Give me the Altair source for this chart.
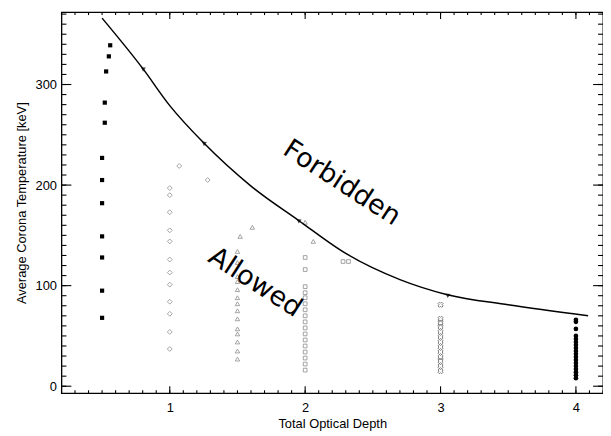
import altair as alt
import pandas as pd

# ---- data ----
g1_x = [0.56, 0.55, 0.53, 0.52, 0.52, 0.50, 0.50, 0.50, 0.50, 0.50, 0.50, 0.50]
g1_y = [339, 328, 313, 282, 262, 227, 205, 182, 149, 128, 95, 68]

g2_x = [1.07, 1.28, 1.0, 1.0, 1.0, 1.0, 1.0, 1.0, 1.0, 1.0, 1.0, 1.0, 1.0, 1.0]
g2_y = [219, 205, 197, 190, 173, 155, 144, 126, 113, 101, 84, 72, 54, 37]

g3_x = [1.61, 1.52, 2.0, 2.06] + [1.5] * 14
g3_y = [158, 149, 163, 144, 134, 123, 109, 104, 96, 88, 82, 75, 67, 57, 52, 44, 35, 27]

g4_x = [2.28, 2.32] + [2.0] * 17
g4_y = [124, 124, 128, 116, 99, 93, 88, 82, 76, 70, 64, 58, 52, 46, 40, 34, 28, 22, 16]

g5_x = [3.0] * 13
g5_y = [81, 67, 63, 59, 54, 49, 44, 39, 34, 29, 25, 20, 15]

g6_x = [4.0] * 18
g6_y = [66, 64, 57, 50, 47, 44, 41, 38, 35, 32, 29, 26, 23, 20, 17, 14, 11, 8]

curve_x = [0.5, 0.8, 1.0, 1.25, 1.6, 1.95, 2.3, 2.7, 3.05, 3.5, 4.09]
curve_y = [366, 316, 279, 242, 199, 165, 132, 106, 91, 81, 70]

marker_x = [0.8, 1.25, 1.95, 3.05]
marker_y = [316, 242, 165, 91]

labels_text = ["Forbidden", "Allowed"]
labels_x = [2.27, 1.63]
labels_y = [202, 103]

x_major = [1, 2, 3, 4]
x_minor = [round(0.2 + 0.1 * i, 1) for i in range(41)]
y_major = [0, 100, 200, 300]
y_minor = list(range(0, 371, 10))

XD = [0.2, 4.2]
YD = [-7, 372]

FONT = "Liberation Sans"


def xs():
    return alt.Scale(domain=XD, nice=False, zero=False)


def ys():
    return alt.Scale(domain=YD, nice=False, zero=False)


def xaxis():
    return alt.Axis(
        orient="bottom", values=x_major, ticks=False, domain=False, grid=False, labelPadding=8,
        labelFont=FONT, labelFontSize=13, labelColor="black", format="d",
        title="Total Optical Depth", titleFont=FONT, titleFontSize=13,
        titleFontWeight="normal", titleColor="black", titlePadding=4)


def yaxis():
    return alt.Axis(
        orient="left", values=y_major, ticks=False, domain=False, grid=False, labelPadding=5,
        labelFont=FONT, labelFontSize=13, labelColor="black", format="d",
        title="Average Corona Temperature [keV]", titleFont=FONT, titleFontSize=13,
        titleFontWeight="normal", titleColor="black", titlePadding=7)


def X():
    return alt.X("x:Q", scale=xs(), axis=xaxis())


def Y():
    return alt.Y("y:Q", scale=ys(), axis=yaxis())


def enc(chart, **extra):
    return chart.encode(x=X(), y=Y(), **extra)


curve_df = pd.DataFrame({"x": curve_x, "y": curve_y})


def group_layer(xv, yv, shape, filled, color, size, angle=0, sw=1.0):
    df = pd.DataFrame({"x": xv, "y": yv})
    return enc(alt.Chart(df).mark_point(
        shape=shape, filled=filled, color=color, size=size, angle=angle,
        strokeWidth=sw, opacity=1
    ))


layers = []

# inward ticks on all four sides: one-sided line symbols anchored on the frame
UP = "M0,0L0,-1"
DOWN = "M0,0L0,1"
RIGHT = "M0,0L1,0"
LEFT = "M0,0L-1,0"


def ticks(xv, yv, path, length):
    df = pd.DataFrame({"x": xv, "y": yv})
    return enc(alt.Chart(df).mark_point(
        shape=path, size=(2 * length) ** 2, filled=False, color="black",
        strokeWidth=1.1, opacity=1))


layers.append(ticks(x_major, [YD[0]] * len(x_major), UP, 7))
layers.append(ticks(x_minor, [YD[0]] * len(x_minor), UP, 3))
layers.append(ticks(x_major, [YD[1]] * len(x_major), DOWN, 7))
layers.append(ticks(x_minor, [YD[1]] * len(x_minor), DOWN, 3))
layers.append(ticks([XD[0]] * len(y_major), y_major, RIGHT, 10))
layers.append(ticks([XD[0]] * len(y_minor), y_minor, RIGHT, 5))
layers.append(ticks([XD[1]] * len(y_major), y_major, LEFT, 10))
layers.append(ticks([XD[1]] * len(y_minor), y_minor, LEFT, 5))

layers.append(group_layer(g1_x, g1_y, "square", True, "black", 18))
layers.append(group_layer(g2_x, g2_y, "diamond", False, "#999999", 24, sw=0.9))
layers.append(group_layer(g3_x, g3_y, "triangle-up", False, "#999999", 20, sw=0.9))
layers.append(group_layer(g4_x, g4_y, "square", False, "#999999", 14, sw=0.9))
layers.append(group_layer(g5_x, g5_y, "cross", False, "#777777", 28, angle=45, sw=0.9))
layers.append(group_layer(g6_x, g6_y, "circle", True, "black", 22))

layers.append(enc(alt.Chart(curve_df).mark_line(color="black", strokeWidth=1.5,
                                                 interpolate="monotone")))

layers.append(enc(alt.Chart(pd.DataFrame({"x": marker_x, "y": marker_y})).mark_point(
    shape="triangle-left", filled=True, color="black", size=26, angle=35)))

layers.append(enc(alt.Chart(pd.DataFrame({"x": labels_x, "y": labels_y, "t": labels_text})).mark_text(
    font="DejaVu Sans", fontSize=27, angle=33, color="black", align="center", baseline="middle"
), text="t:N"))

chart = alt.layer(*layers).properties(
    width=547, height=385,
    autosize=alt.AutoSizeParams(type="none"),
    padding={"left": 54, "top": 2, "right": 0, "bottom": 38},
    background="white",
).configure_view(stroke="black", strokeWidth=1.3)

chart.save("out.html", embed_options={"renderer": "svg", "actions": False})
